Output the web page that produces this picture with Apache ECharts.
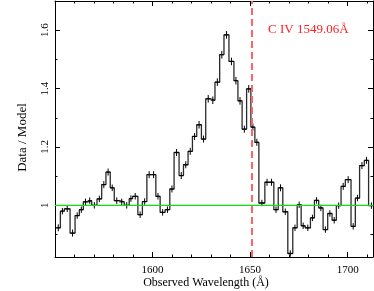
<!DOCTYPE html>
<html><head><meta charset="utf-8">
<script src="https://cdn.jsdelivr.net/npm/echarts@6/dist/echarts.min.js"></script>
<style>html,body{margin:0;padding:0;background:#fff}#c{width:374px;height:291px}</style>
</head><body><div id="c"></div>
<script>
const binEdges = [1550.6,1552.76,1554.81,1557.72,1560.28,1562.47,1564.52,1566.77,1568.81,1571.52,
  1573.93,1576.12,1578.32,1580.37,1582.92,1585.48,1588.04,1589.78,1592.48,1594.79,
  1597.09,1599.39,1601.69,1603.89,1606.44,1608.84,1611.04,1613.6,1615.85,1618.2,
  1620.45,1622.65,1625.05,1627.25,1629.81,1632.0,1634.41,1636.61,1639.16,1641.72,
  1643.76,1645.91,1648.21,1650.41,1652.45,1654.5,1657.57,1659.82,1662.17,1664.42,
  1666.77,1669.33,1671.88,1674.13,1676.18,1678.22,1680.93,1682.98,1685.17,1687.42,
  1689.78,1692.02,1694.22,1696.63,1698.82,1701.74,1703.94,1706.13,1708.54,1710.74,1713.65];
const ratioValues = [0.923,0.98,0.988,0.905,0.965,0.985,1.012,1.016,1.0,1.022,
  1.071,1.114,1.06,1.016,1.012,1.0,1.023,1.031,0.968,1.013,
  1.105,1.105,1.031,0.976,0.985,1.056,1.181,1.102,1.139,1.185,
  1.236,1.276,1.227,1.365,1.36,1.422,1.516,1.584,1.493,1.427,
  1.358,1.261,1.399,1.268,1.216,1.008,1.079,1.079,0.985,1.06,
  0.978,0.835,0.923,1.002,0.93,0.923,0.957,1.017,0.991,0.917,
  0.972,0.949,0.999,1.065,1.088,0.928,1.025,1.136,1.154,0.999];
const ratioErrors = [0.012,0.011,0.011,0.012,0.011,0.011,0.011,0.011,0.011,0.011,
  0.012,0.012,0.011,0.011,0.011,0.011,0.011,0.011,0.011,0.011,
  0.012,0.012,0.011,0.011,0.011,0.012,0.012,0.012,0.012,0.012,
  0.012,0.013,0.012,0.013,0.013,0.013,0.013,0.013,0.013,0.013,
  0.013,0.012,0.013,0.012,0.012,0.011,0.012,0.012,0.011,0.012,
  0.011,0.011,0.011,0.011,0.011,0.011,0.011,0.011,0.011,0.011,
  0.011,0.011,0.011,0.012,0.012,0.011,0.011,0.012,0.012,0.011];
const modelLevel = 1;
const lineWavelength = 1651.1;
const lineLabel = 'C IV 1549.06Å';
const xTitle = 'Observed Wavelength (Å)';
const yTitle = 'Data / Model';
const xMajorTicks = [1600, 1650, 1700];
const xMinorTicks = [1560,1570,1580,1590,1610,1620,1630,1640,1660,1670,1680,1690,1710];
const yMajorTicks = [1, 1.2, 1.4, 1.6];
const yMinorTicks = [0.9, 1.1, 1.3, 1.5];
const xRange = [1550, 1713];
const yRange = [0.823, 1.7];

const serif = 'Liberation Serif';
const stepPts = ratioValues.map((v, i) => [binEdges[i], v]);
stepPts.push([binEdges[binEdges.length - 1], ratioValues[ratioValues.length - 1]]);
const bins = ratioValues.map((v, i) => [binEdges[i], binEdges[i + 1], v, ratioErrors[i]]);
const plain = v => String(Math.round(v * 1000) / 1000);

function xAx(pos, ticks, len, showLine, labels) {
  return {type: 'value', position: pos, min: xRange[0], max: xRange[1],
    axisLine: {show: showLine, onZero: false, lineStyle: {color: '#000', width: 1}},
    axisTick: {show: true, inside: true, length: len, customValues: ticks, lineStyle: {color: '#000', width: 1}},
    axisLabel: labels ? {show: true, customValues: labels, formatter: plain, margin: 8, fontFamily: serif, fontSize: 11, color: '#000'} : {show: false},
    splitLine: {show: false}};
}
function yAx(pos, ticks, len, showLine, labels) {
  return {type: 'value', position: pos, min: yRange[0], max: yRange[1],
    axisLine: {show: showLine, onZero: false, lineStyle: {color: '#000', width: 1}},
    axisTick: {show: true, inside: true, length: len, customValues: ticks, lineStyle: {color: '#000', width: 1}},
    axisLabel: labels ? {show: true, customValues: labels, formatter: plain, rotate: 90, margin: 4, fontFamily: serif, fontSize: 11, color: '#000'} : {show: false},
    splitLine: {show: false}};
}

const chart = echarts.init(document.getElementById('c'), null, {renderer: 'canvas'});
chart.setOption({
  animation: false,
  backgroundColor: '#fff',
  grid: {left: 55, right: 1, top: 1, bottom: 34},
  xAxis: [
    xAx('bottom', xMajorTicks, 5, true, xMajorTicks),
    xAx('bottom', xMinorTicks, 2.5, false, null),
    xAx('top', xMajorTicks, 5, true, null),
    xAx('top', xMinorTicks, 2.5, false, null)
  ],
  yAxis: [
    yAx('left', yMajorTicks, 5, true, yMajorTicks),
    yAx('left', yMinorTicks, 2.5, false, null),
    yAx('right', yMajorTicks, 5, true, null),
    yAx('right', yMinorTicks, 2.5, false, null)
  ],
  graphic: [
    {type: 'text', x: 268, y: 29.5, style: {text: lineLabel, font: '13px "Liberation Serif"', fill: '#ff2020', textVerticalAlign: 'middle'}},
    {type: 'text', x: 206, y: 282.5, style: {text: xTitle, font: '12px "Liberation Serif"', fill: '#000', textAlign: 'center', textVerticalAlign: 'middle'}},
    {type: 'text', x: 22.5, y: 137.5, rotation: Math.PI / 2, style: {text: yTitle, font: '13px "Liberation Serif"', fill: '#000', textAlign: 'center', textVerticalAlign: 'middle'}}
  ],
  series: [
    {type: 'line', data: stepPts, step: 'end', symbol: 'none', clip: true,
      lineStyle: {color: '#2a2a2a', width: 1.3}, z: 2},
    {type: 'custom', data: bins, clip: true, z: 3,
      renderItem: function (params, api) {
        const lo = api.value(0), hi = api.value(1), v = api.value(2), e = api.value(3);
        const c = (lo + hi) / 2;
        const p1 = api.coord([c, v + e]), p2 = api.coord([c, v - e]);
        const a = api.coord([lo, v]), b = api.coord([hi, v]);
        return {type: 'group', children: [
          {type: 'line', shape: {x1: p1[0], y1: p1[1], x2: p2[0], y2: p2[1]}, style: {stroke: '#000', lineWidth: 1}},
          {type: 'line', shape: {x1: a[0], y1: a[1], x2: b[0], y2: b[1]}, style: {stroke: '#000', lineWidth: 1}}
        ]};
      }},
    {type: 'line', data: [[xRange[0], modelLevel], [xRange[1], modelLevel]], symbol: 'none', z: 4,
      lineStyle: {color: '#10e010', width: 1.4},
      markLine: {symbol: 'none', silent: true, label: {show: false},
        lineStyle: {type: [7, 4], color: '#ff6464', width: 2},
        data: [{xAxis: lineWavelength}]}}
  ]
});
</script></body></html>
